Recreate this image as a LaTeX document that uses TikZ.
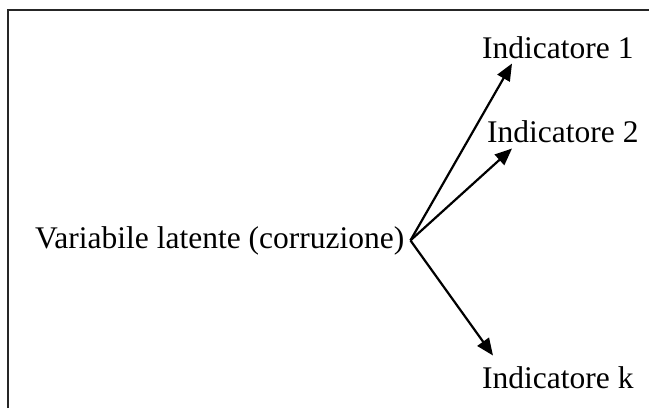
\documentclass[tikz,border=0pt]{standalone}
\usepackage{fontspec}
\setmainfont{Liberation Serif}
\usetikzlibrary{arrows.meta}
\begin{document}
\begin{tikzpicture}[x=1pt,y=-1pt,
  lbl/.style={inner sep=0pt,anchor=base west,font=\fontsize{31.5}{37}\selectfont},
  conn/.style={line width=2.2pt,-{Triangle[length=17pt,width=14pt]}},
  frame/.style={line width=2pt,draw=black!85}]
\useasboundingbox (0,0) rectangle (649,408);
\draw[frame] (8,408) -- (8,10) -- (649,10);
\node[lbl] (lat) at (35,248) {Variabile latente (corruzione)};
\node[lbl] (i1) at (482,58) {Indicatore 1};
\node[lbl] (i2) at (487,142) {Indicatore 2};
\node[lbl] (ik) at (482,388) {Indicatore k};
\coordinate (o) at ([xshift=6pt]lat.east);
\coordinate (t1) at ([shift={(30,5)}]i1.south west);
\coordinate (t2) at ([shift={(25,6)}]i2.south west);
\coordinate (tk) at ([shift={(11,-33)}]ik.south west);
\draw[conn] (o) -- (t1);
\draw[conn] (o) -- (t2);
\draw[conn] (o) -- (tk);
\end{tikzpicture}
\end{document}
